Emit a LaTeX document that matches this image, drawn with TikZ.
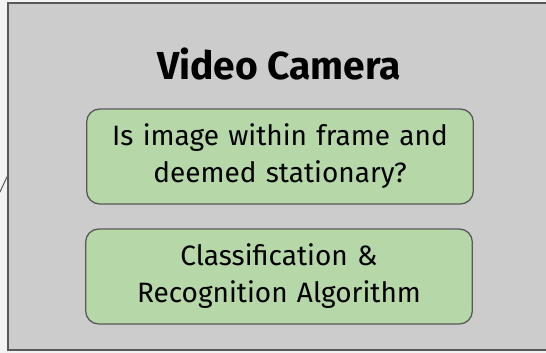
\documentclass[tikz,border=0pt]{standalone}
\usepackage{fontspec}
\setmainfont{Fira Sans}
\usetikzlibrary{positioning}

\definecolor{panelgray}{HTML}{CCCCCC}
\definecolor{edgegray}{HTML}{595959}
\definecolor{stepgreen}{HTML}{B6D7A8}
\definecolor{pagegray}{HTML}{F3F3F3}

\begin{document}
\begin{tikzpicture}[
    x=1pt, y=-1pt,
    camera/.style={rectangle, draw=edgegray, line width=1.5pt, fill=panelgray, minimum width=548pt, minimum height=347pt, inner sep=0pt},
    title/.style={anchor=base, font=\bfseries\fontsize{39}{44}\selectfont},
    check/.style={rectangle, rounded corners=13pt, draw=edgegray, line width=1.3pt, fill=stepgreen, minimum width=386pt, minimum height=95pt, text width=380pt, align=center, font=\fontsize{28}{37}\selectfont},
    feed/.style={draw=edgegray, line width=1pt}
]
\fill[pagegray] (0,0) rectangle (546,353);
\useasboundingbox (0,0) rectangle (546,353);
\node[camera] (camera) at (282,176.5) {};
\node[title] (name) at (279,79) {Video Camera};
\node[check] (frame) at (280,156.5) {Is image within frame and\\deemed stationary?};
\node[check] (algo) at (279,276.5) {Classification \&\\Recognition Algorithm};
\coordinate (feedin) at (-2,196);
\draw[feed] (feedin) -- (camera.west);
\end{tikzpicture}
\end{document}
